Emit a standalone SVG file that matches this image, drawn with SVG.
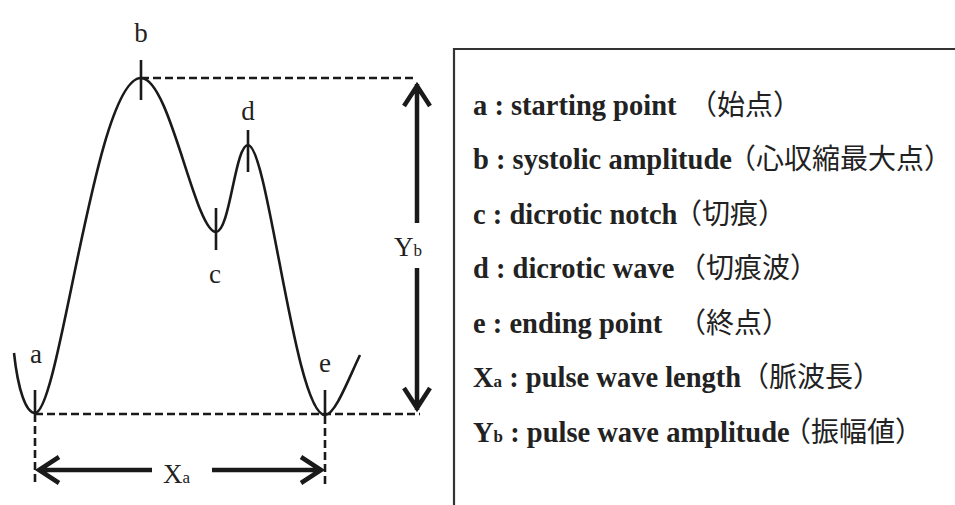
<svg xmlns="http://www.w3.org/2000/svg" width="955" height="505" viewBox="0 0 955 505">
<style>
.lbl{font-family:"Liberation Serif","Times New Roman",serif;font-size:27px;fill:#222}
.sub{font-size:17px}
.leg{font-family:"Liberation Serif","Times New Roman",serif;font-weight:bold;font-size:28.5px;fill:#222}
.cjk{font-family:"Noto Sans CJK JP","Noto Sans CJK SC",sans-serif;font-weight:normal;font-size:28px}
.lsub{font-size:17px}
.curve{fill:none;stroke:#1a1a1a;stroke-width:2.6}
.tick{stroke:#1a1a1a;stroke-width:2.6}
.dash{fill:none;stroke:#1a1a1a;stroke-width:2.6;stroke-dasharray:8 4}
.arr{fill:none;stroke:#1a1a1a;stroke-width:4.5}
</style>
<rect width="955" height="505" fill="#fff"/>
<g id="waveform">
<path class="curve" d="M14,353 C18,390 26,413 35,413 C60,413 95,78 141,78 C170,78 195,232 216,232 C230,232 235,145 248,145 C268,145 295,415 325,415 C335,415 348,380 360,355"/>
</g>
<g id="point-a"><line class="tick" x1="35" y1="390" x2="35" y2="414"/><text class="lbl" x="36" y="363" text-anchor="middle">a</text></g>
<g id="point-b"><line class="tick" x1="141" y1="60" x2="141" y2="100"/><text class="lbl" x="141" y="42" text-anchor="middle">b</text></g>
<g id="point-c"><line class="tick" x1="216" y1="208" x2="216" y2="250"/><text class="lbl" x="215" y="283" text-anchor="middle">c</text></g>
<g id="point-d"><line class="tick" x1="248" y1="130" x2="248" y2="172"/><text class="lbl" x="248" y="120" text-anchor="middle">d</text></g>
<g id="point-e"><line class="tick" x1="325" y1="390" x2="325" y2="416"/><text class="lbl" x="325" y="372" text-anchor="middle">e</text></g>
<g id="connectors">
<path class="dash" d="M141,78 H416"/>
<path class="dash" d="M35,414 H420"/>
<path class="dash" d="M35,414 V486"/>
<path class="dash" d="M325,416 V486"/>
<path class="arr" d="M417,84 V223 M404,106 L417,86 L430,106"/>
<path class="arr" d="M417,268 V410 M404,388 L417,408 L430,388"/>
<path class="arr" d="M152,470 H38 M59,457 L39,470 L59,483"/>
<path class="arr" d="M212,470 H322 M301,457 L321,470 L301,483"/>
</g>
<g id="label-Yb"><text class="lbl" x="394" y="256">Y<tspan class="sub">b</tspan></text></g>
<g id="label-Xa"><text class="lbl" x="163" y="483">X<tspan class="sub">a</tspan></text></g>
<g id="legend">
<path d="M955,49 H454 V505" fill="none" stroke="#333" stroke-width="2.2"/>
<text class="leg" x="473" y="115">a : starting point <tspan class="cjk" x="689">（始点）</tspan></text>
<text class="leg" x="473" y="169">b : systolic amplitude <tspan class="cjk" x="728">（心収縮最大点）</tspan></text>
<text class="leg" x="473" y="224">c : dicrotic notch <tspan class="cjk" x="674">（切痕）</tspan></text>
<text class="leg" x="473" y="278">d : dicrotic wave<tspan class="cjk" x="678">（切痕波）</tspan></text>
<text class="leg" x="473" y="333">e : ending point <tspan class="cjk" x="678">（終点）</tspan></text>
<text class="leg" x="473" y="387">X<tspan class="lsub">a</tspan> : pulse wave length<tspan class="cjk" x="741">（脈波長）</tspan></text>
<text class="leg" x="473" y="442">Y<tspan class="lsub">b</tspan> : pulse wave amplitude<tspan class="cjk" x="783">（振幅値）</tspan></text>
</g>
</svg>
